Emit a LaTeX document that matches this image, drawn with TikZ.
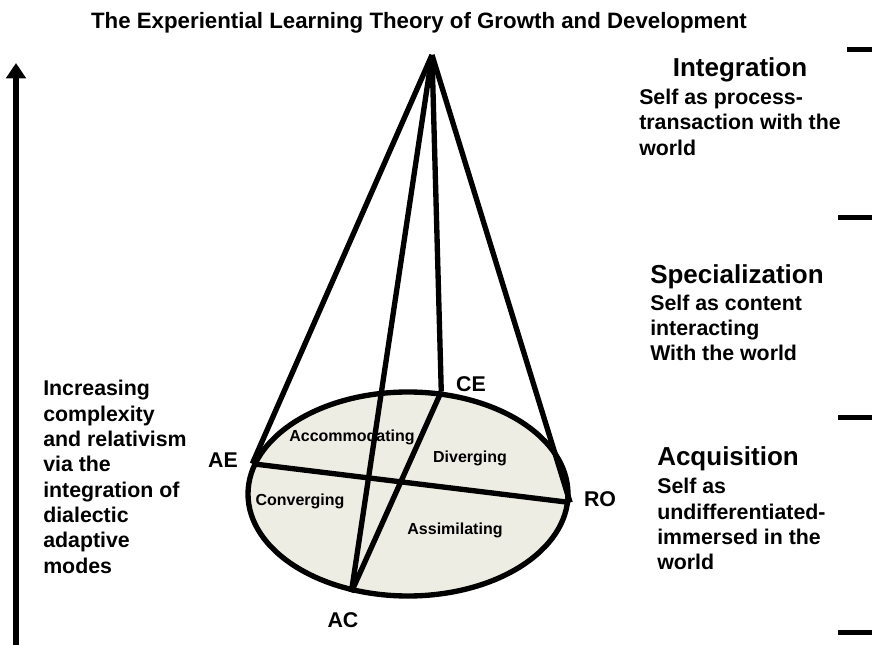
\documentclass[tikz,border=0pt]{standalone}
\usepackage{fontspec}
\setmainfont{Liberation Sans}
\usetikzlibrary{positioning,shapes.geometric,arrows.meta}
\definecolor{discfill}{RGB}{238,237,227}
\tikzstyle{heading} = [inner sep=0pt, font=\fontsize{19.5pt}{23pt}\selectfont\bfseries]
\tikzstyle{desc} = [inner sep=0pt, align=left, %
   font=\fontsize{16pt}{19pt}\selectfont\bfseries]
\tikzstyle{mode} = [inner sep=0pt, font=\fontsize{16pt}{19pt}\selectfont\bfseries]
\tikzstyle{region} = [inner sep=0pt, font=\fontsize{12pt}{14pt}\selectfont\bfseries]
\tikzstyle{line} = [draw, line width=4pt]
\tikzstyle{tick} = [draw, line width=3.75pt]

\begin{document}
\begin{tikzpicture}[x=0.75pt, y=-0.75pt]
   \useasboundingbox (0,0) rectangle (872,645);

   % Title
   \node[desc, font=\fontsize{16.7pt}{19pt}\selectfont\bfseries] (title) at (419,23) {The Experiential Learning Theory of Growth and Development};

   % Growth axis
   \coordinate (axisBase) at (16,645);
   \coordinate (axisTip) at (16,63);
   \draw[line width=4.5pt, -{Triangle[width=14.5pt,length=11.5pt]}] (axisBase) -- (axisTip);
   \node[desc, anchor=north west] (axisText) at (43,380) {Increasing\\complexity\\and relativism\\via the\\integration of\\dialectic\\adaptive\\modes};

   % Stage ticks and labels
   \foreach \ty/\tx in {50/847, 218/838, 418/838, 632/838}
      \draw[tick] (\tx,\ty) -- (872,\ty);

   \node[heading, anchor=base] (intHead) at (740,77) {Integration};
   \node[desc, below=4.5pt of intHead] (intDesc) {Self as process-\\transaction with the\\world};

   \node[heading, anchor=base west] (specHead) at (650,284) {Specialization};
   \node[desc, below right=3.5pt and 0pt of specHead.south west] (specDesc) {Self as content\\interacting\\With the world};

   \node[heading, anchor=base west] (acqHead) at (657,465) {Acquisition};
   \node[desc, below right=5.5pt and 0pt of acqHead.south west] (acqDesc) {Self as\\undifferentiated-\\immersed in the\\world};

   % Cone base
   \node[ellipse, draw, line width=4pt, fill=discfill, inner sep=0pt, %
      minimum width=240pt, minimum height=153pt] (disc) at (408,494) {};
   \coordinate (apex) at (432,55);
   \coordinate (AE) at (disc.169.6);
   \coordinate (RO) at (disc.-3.3);
   \coordinate (CE) at (disc.72);
   \coordinate (AC) at (disc.-120.3);

   % Learning modes
   \node[mode] (aeLabel) at (223,460) {AE};
   \node[mode] (ceLabel) at (471,384) {CE};
   \node[mode] (roLabel) at (600,499) {RO};
   \node[mode] (acLabel) at (343,620) {AC};

   % Learning styles
   \node[region] (accom) at (352,437) {Accommodating};
   \node[region] (diverg) at (470,458) {Diverging};
   \node[region] (converg) at (300,501) {Converging};
   \node[region] (assim) at (455,530) {Assimilating};

   % Draw edges
   \path[line] (apex) -- (AE);
   \path[line] (apex) -- (CE);
   \path[line] (apex) -- (AC);
   \path[line] (apex) -- (RO);
   \path[line] (CE) -- (AC);
   \path[line] (AE) -- (RO);
\end{tikzpicture}
\end{document}
